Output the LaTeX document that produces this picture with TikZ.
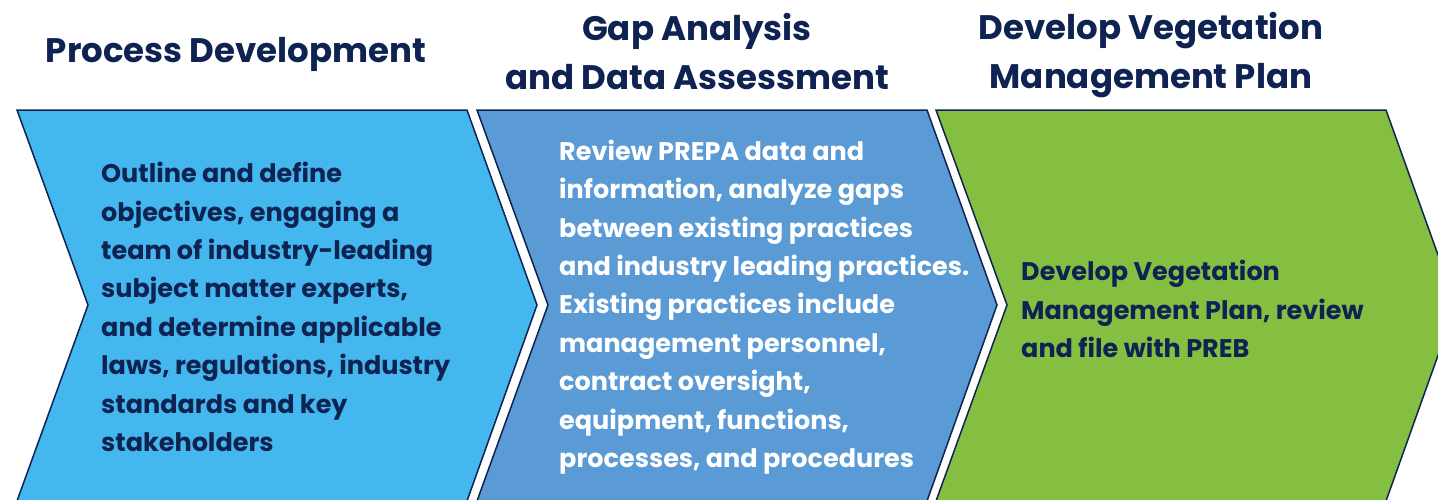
\documentclass[tikz,border=0pt]{standalone}
\usepackage{fontspec}
\setmainfont{Poppins}
\usepackage{tikz}
\definecolor{navy}{HTML}{0F2352}
\definecolor{skyblue}{HTML}{44B7EE}
\definecolor{midblue}{HTML}{5B9BD5}
\definecolor{leafgreen}{HTML}{84BF41}
\tikzset{
	chev/.style={draw=navy,line width=1.5pt,line join=miter},
	heading/.style={text=navy,align=center,font=\fontsize{34}{49}\selectfont\bfseries},
	body/.style={align=left,anchor=west,inner sep=0pt,font=\fontsize{25.5}{38.4}\selectfont\bfseries}
}
\begin{document}
\begin{tikzpicture}[x=1pt,y=-1pt]
	\useasboundingbox (0,0) rectangle (1438,499);
	\clip (0,0) rectangle (1438,499);
	\draw[chev,fill=skyblue] (17,110) -- (467,110) -- (537,305) -- (467,501) -- (17,501) -- (88,305) -- cycle;
	\draw[chev,fill=midblue] (477,110) -- (927,110) -- (997,305) -- (927,501) -- (477,501) -- (548,305) -- cycle;
	\draw[chev,fill=leafgreen] (936,110) -- (1386,110) -- (1456,305) -- (1386,501) -- (936,501) -- (1007,305) -- cycle;

	\node[heading] at (236,54) (proc) {Process Development};
	\node[heading] at (697,52) (gap) {Gap Analysis\\and Data Assessment};
	\node[heading] at (1151,55) (plan) {Develop Vegetation\\Management Plan};

	\node[body,text=navy] at (101,307) (proctxt) {Outline and define\\objectives, engaging a\\team of industry-leading\\subject matter experts,\\and determine applicable\\laws, regulations, industry\\standards and key\\stakeholders};
	\node[body,text=white] at (559,307) (gaptxt) {Review PREPA data and\\information, analyze gaps\\between existing practices\\and industry leading practices.\\Existing practices include\\management personnel,\\contract oversight,\\equipment, functions,\\processes, and procedures};
	\node[body,text=navy] at (1021,309) (plantxt) {Develop Vegetation\\Management Plan, review\\and file with PREB};
\end{tikzpicture}
\end{document}
